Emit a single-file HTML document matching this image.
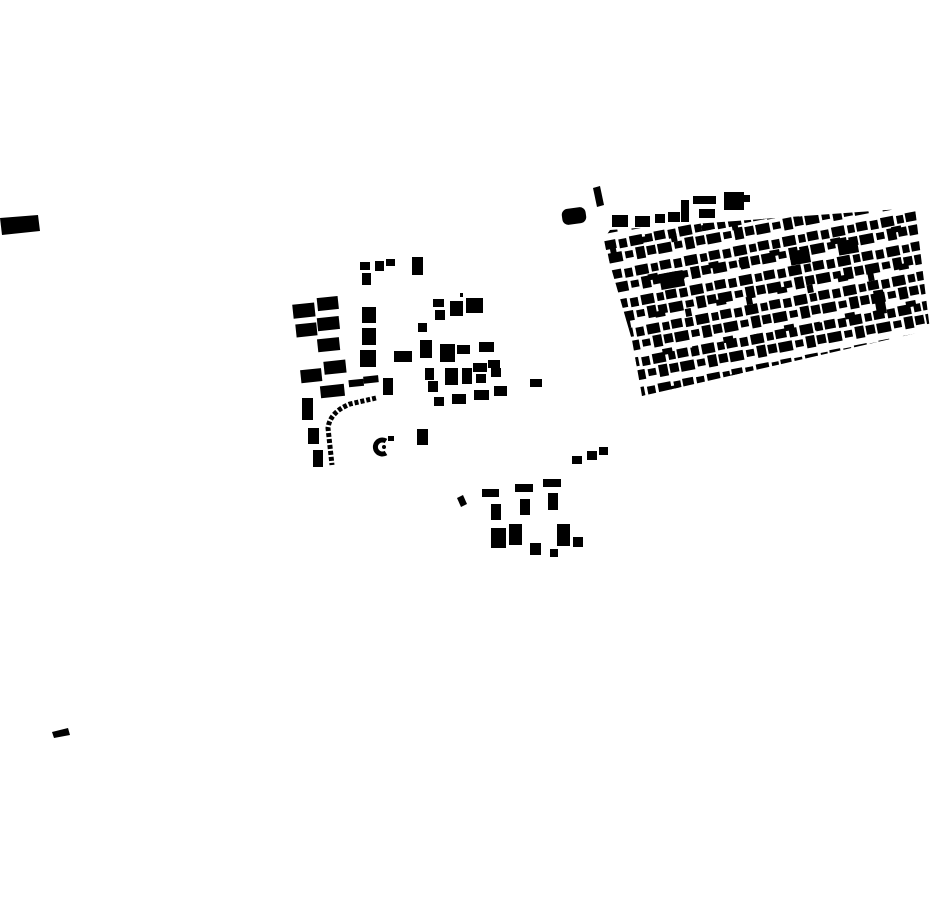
<!DOCTYPE html>
<html><head><meta charset="utf-8"><style>html,body{margin:0;padding:0;background:#fff}svg{display:block}</style></head>
<body>
<svg width="930" height="924" viewBox="0 0 930 924" xmlns="http://www.w3.org/2000/svg">
<defs>
<pattern id="blk" width="50" height="30" patternUnits="userSpaceOnUse" patternTransform="rotate(-11 600 240) translate(4 2)">
<g fill="#000">
<rect x="0" y="0" width="11" height="9"/><rect x="14" y="1" width="8" height="9"/><rect x="25" y="0" width="13" height="10"/><rect x="41" y="1" width="7" height="8"/>
<rect x="1" y="13" width="14" height="10"/><rect x="18" y="14" width="8" height="7"/><rect x="29" y="12" width="9" height="12"/><rect x="40" y="13" width="9" height="9"/>
</g>
</pattern>
<pattern id="blk2" width="62" height="38" patternUnits="userSpaceOnUse" patternTransform="rotate(-11 600 240) translate(20 17)">
<g fill="#000">
<rect x="0" y="0" width="10" height="6"/><rect x="30" y="3" width="6" height="8"/>
</g>
</pattern>
<clipPath id="cl"><polygon points="603,240 610,230 915,208 930,330 642,396 632,340"/></clipPath>
</defs>
<g fill="#000">
<polygon points="0,218 38,215 40,231 2,235"/>
<polygon points="52,732 68,728 70,735 54,738"/>
<rect x="562" y="208" width="24" height="16" rx="6" transform="rotate(-8 574 216)"/>
<polygon points="593,188 600,186 604,205 597,207"/>
<rect x="612" y="215" width="16" height="12"/><rect x="635" y="216" width="15" height="11"/>
<rect x="655" y="214" width="10" height="9"/><rect x="668" y="212" width="12" height="10"/>
<rect x="681" y="200" width="8" height="22"/><rect x="693" y="196" width="23" height="8"/>
<rect x="699" y="209" width="16" height="9"/><rect x="724" y="192" width="20" height="18"/><rect x="742" y="195" width="8" height="7"/>
<g clip-path="url(#cl)">
<rect x="600" y="205" width="335" height="195" fill="url(#blk)"/>
<rect x="600" y="205" width="335" height="195" fill="url(#blk2)"/>
<rect x="660" y="272" width="24" height="16" transform="rotate(-10 672 280)"/>
<rect x="790" y="250" width="20" height="14" transform="rotate(-10 800 257)"/>
<rect x="838" y="240" width="20" height="14" transform="rotate(-10 848 247)"/>
<rect x="875" y="290" width="10" height="24" transform="rotate(-10 880 302)"/>
</g>

<!-- left cluster -->
<rect x="360" y="262" width="10" height="8"/><rect x="375" y="261" width="9" height="10"/><rect x="386" y="259" width="9" height="7"/>
<rect x="412" y="257" width="11" height="18"/><rect x="362" y="273" width="9" height="12"/>
<g transform="rotate(-6 320 330)">
<rect x="295" y="302" width="22" height="14"/><rect x="320" y="298" width="21" height="13"/>
<rect x="296" y="322" width="21" height="13"/><rect x="318" y="318" width="22" height="13"/>
<rect x="316" y="339" width="22" height="13"/><rect x="296" y="368" width="21" height="13"/>
<rect x="320" y="362" width="22" height="13"/><rect x="314" y="386" width="24" height="12"/>
<rect x="343" y="383" width="15" height="7"/><rect x="358" y="381" width="15" height="7"/>
</g>
<rect x="383" y="378" width="10" height="17"/>
<rect x="302" y="398" width="11" height="22"/><rect x="308" y="428" width="11" height="16"/><rect x="313" y="450" width="10" height="17"/>
<rect x="362" y="307" width="14" height="16"/><rect x="362" y="328" width="14" height="17"/><rect x="360" y="350" width="16" height="17"/>
<rect x="394" y="351" width="18" height="11"/><rect x="418" y="323" width="9" height="9"/><rect x="420" y="340" width="12" height="18"/>
<rect x="440" y="344" width="15" height="18"/><rect x="457" y="345" width="13" height="9"/><rect x="479" y="342" width="15" height="10"/>
<rect x="425" y="368" width="9" height="12"/><rect x="428" y="381" width="10" height="11"/><rect x="445" y="368" width="13" height="17"/>
<rect x="462" y="368" width="10" height="16"/><rect x="473" y="363" width="14" height="9"/><rect x="488" y="360" width="12" height="8"/>
<rect x="476" y="374" width="10" height="9"/><rect x="491" y="368" width="10" height="9"/>
<rect x="434" y="397" width="10" height="9"/><rect x="452" y="394" width="14" height="10"/><rect x="474" y="390" width="15" height="10"/>
<rect x="494" y="386" width="13" height="10"/><rect x="530" y="379" width="12" height="8"/>
<rect x="433" y="299" width="11" height="8"/><rect x="435" y="310" width="10" height="10"/><rect x="450" y="301" width="13" height="15"/>
<rect x="466" y="298" width="17" height="15"/><rect x="460" y="293" width="3" height="4"/>
<rect x="417" y="429" width="11" height="16"/>
<path d="M376 398 L350 404 Q330 412 328 428 L332 465" fill="none" stroke="#000" stroke-width="5" stroke-dasharray="4 2"/>
<path d="M386 441 A7 7 0 1 0 386 453" fill="none" stroke="#000" stroke-width="5"/>
<circle cx="384" cy="447" r="2"/>
<rect x="388" y="436" width="6" height="5"/>

<!-- bottom cluster -->
<rect x="572" y="456" width="10" height="8"/><rect x="587" y="451" width="10" height="9"/><rect x="599" y="447" width="9" height="8"/>
<polygon points="457,498 463,495 467,504 461,507"/>
<rect x="482" y="489" width="17" height="8"/><rect x="515" y="484" width="18" height="8"/><rect x="543" y="479" width="18" height="8"/>
<rect x="491" y="504" width="10" height="16"/><rect x="520" y="499" width="10" height="16"/><rect x="548" y="493" width="10" height="17"/>
<rect x="491" y="528" width="15" height="20"/><rect x="509" y="524" width="13" height="21"/><rect x="530" y="543" width="11" height="12"/>
<rect x="550" y="549" width="8" height="8"/><rect x="557" y="524" width="13" height="22"/><rect x="573" y="537" width="10" height="10"/>
</g>
</svg>
</body></html>
